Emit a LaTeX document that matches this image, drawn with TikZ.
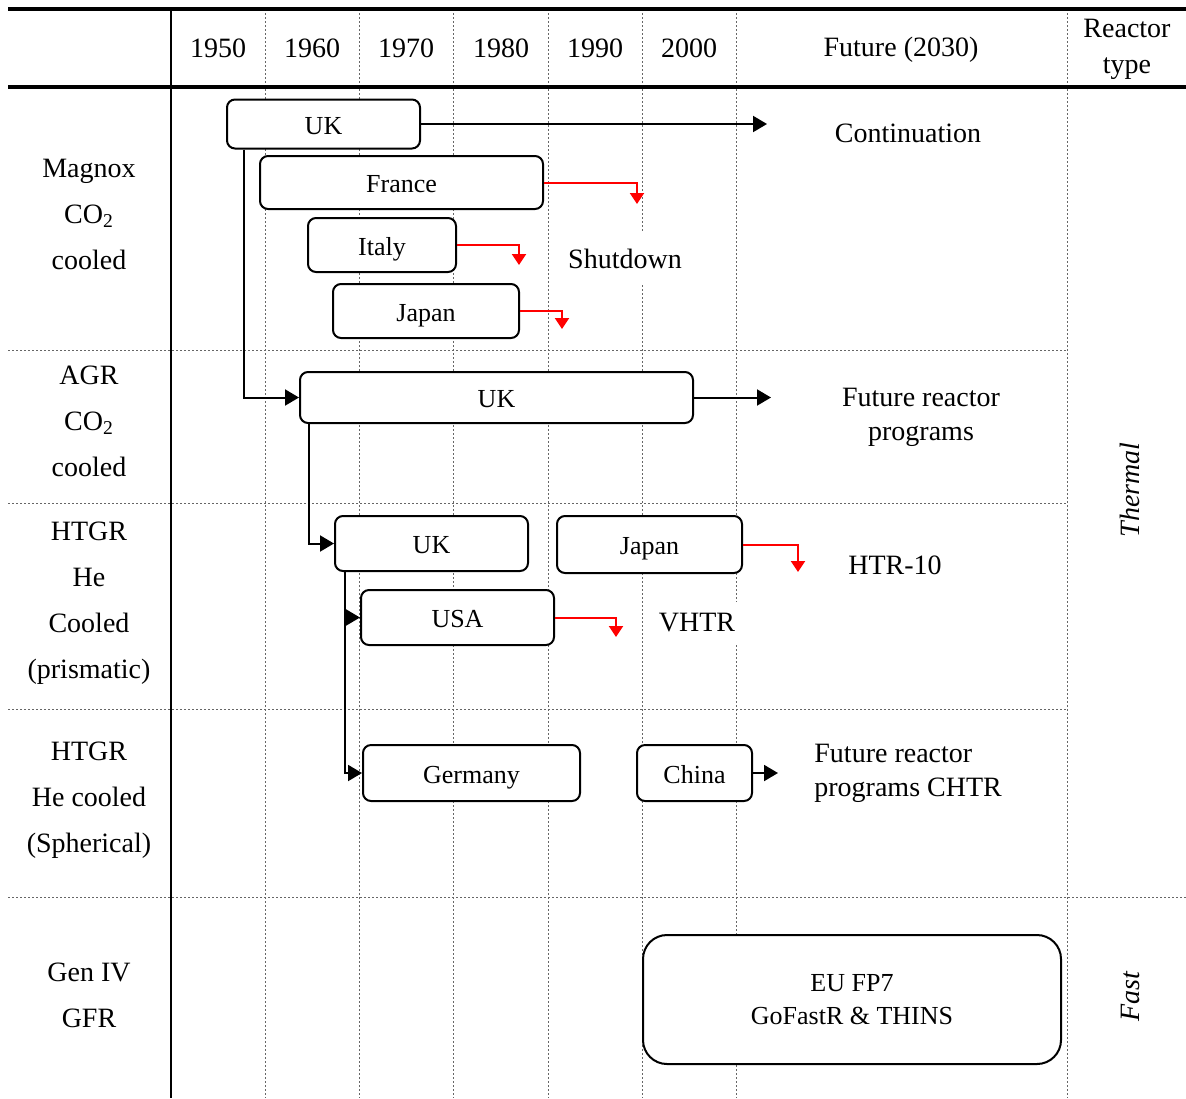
\documentclass[tikz,border=0pt]{standalone}
\usepackage{fontspec}
\setmainfont{Liberation Serif}
\usepackage{tikz}
\usetikzlibrary{arrows.meta}
\tikzstyle{Box} = [rectangle, rounded corners=4pt, draw=black, line width=1pt, fill=white, inner sep=0pt, text height=10pt, text depth=0pt, font=\fontsize{13}{15}\selectfont]
\tikzstyle{Lbl} = [fill=white, inner sep=1pt, font=\fontsize{14}{17}\selectfont]
\tikzstyle{Row} = [align=center, font=\fontsize{14}{23}\selectfont]
\tikzstyle{Grid} = [black!60, line width=0.5pt, dash pattern=on 1pt off 1pt]
\tikzstyle{Rule} = [black, line width=1.75pt]
\tikzstyle{Link} = [-{Triangle[length=7pt, width=8pt]}, line width=1pt]
\tikzstyle{Stop} = [-{Triangle[length=5.5pt, width=7pt]}, line width=1pt, red]

\begin{document}
\begin{tikzpicture}[x=0.5pt, y=-0.5pt]
    \useasboundingbox (0,0) rectangle (1186,1098);

    %%%%%%%%%%%%%%%%%%%%%%
    % table grid
    \draw [Grid] (265, 9) -- (265, 1098);
    \draw [Grid] (359, 9) -- (359, 1098);
    \draw [Grid] (453, 9) -- (453, 1098);
    \draw [Grid] (548, 9) -- (548, 1098);
    \draw [Grid] (642, 9) -- (642, 1098);
    \draw [Grid] (736, 9) -- (736, 1098);
    \draw [Grid] (1067, 9) -- (1067, 1098);
    \draw [Grid] (8, 350) -- (1067, 350);
    \draw [Grid] (8, 503) -- (1067, 503);
    \draw [Grid] (8, 709) -- (1067, 709);
    \draw [Grid] (8, 897) -- (1186, 897);
    \draw [black, line width=1pt] (171, 9) -- (171, 1098);
    \draw [Rule] (8, 9) -- (1186, 9);
    \draw [Rule] (8, 87) -- (1186, 87);

    %%%%%%%%%%%%%%%%%%%%%%
    % header
    \node[Lbl] (y1950) at (218, 48) {1950};
    \node[Lbl] (y1960) at (312, 48) {1960};
    \node[Lbl] (y1970) at (406, 48) {1970};
    \node[Lbl] (y1980) at (501, 48) {1980};
    \node[Lbl] (y1990) at (595, 48) {1990};
    \node[Lbl] (y2000) at (689, 48) {2000};
    \node[Lbl] (future) at (901, 50) {Future (2030)};
    \node[Row, font=\fontsize{14}{18}\selectfont] (rtype) at (1127, 49) {Reactor\\type};

    %%%%%%%%%%%%%%%%%%%%%%
    % row titles
    \node[Row] (magnox) at (89, 214) {Magnox\\CO\textsubscript{2}\\cooled};
    \node[Row] (agr) at (89, 421) {AGR\\CO\textsubscript{2}\\cooled};
    \node[Row] (htgrP) at (89, 603) {HTGR\\He\\Cooled\\(prismatic)};
    \node[Row] (htgrS) at (89, 800) {HTGR\\He cooled\\(Spherical)};
    \node[Row] (gfr) at (89, 995) {Gen IV\\GFR};
    \node[Lbl, rotate=90, font=\fontsize{14}{17}\selectfont\itshape] (thermal) at (1130, 490) {Thermal};
    \node[Lbl, rotate=90, font=\fontsize{14}{17}\selectfont\itshape] (fast) at (1130, 997) {Fast};

    %%%%%%%%%%%%%%%%%%%%%%
    % Magnox
    \node[Box, minimum width=96.5pt, minimum height=24.5pt] (ukMag) at (323.5, 124) {UK};
    \node[Box, minimum width=141.5pt, minimum height=26.5pt] (france) at (401.5, 182.5) {France};
    \node[Box, minimum width=74pt, minimum height=27pt] (italy) at (382, 245) {Italy};
    \node[Box, minimum width=93pt, minimum height=27pt] (japanMag) at (426, 311) {Japan};
    \node[Lbl] (contin) at (908, 133) {Continuation};
    \node[Lbl, inner sep=8pt] (shutdown) at (625, 259) {Shutdown};
    \coordinate (contEnd) at (767, 124);
    \coordinate (frEnd) at (637, 204);
    \coordinate (itEnd) at (519, 265);
    \coordinate (jpEnd) at (562, 329);

    \draw[Link] (ukMag) to (contEnd);
    \draw[Stop] (france.east) -| (frEnd);
    \draw[Stop] (italy.east) -| (itEnd);
    \draw[Stop] (japanMag.east) -| (jpEnd);

    %%%%%%%%%%%%%%%%%%%%%%
    % AGR
    \node[Box, minimum width=196.5pt, minimum height=25.5pt] (ukAGR) at (496.5, 397.5) {UK};
    \node[Lbl, align=center] (futAGR) at (921, 417) {Future reactor\\programs};
    \coordinate (agrEnd) at (771, 397.5);

    \draw[Link] ([xshift=9pt]ukMag.south west) |- (ukAGR.west);
    \draw[Link] (ukAGR) to (agrEnd);

    %%%%%%%%%%%%%%%%%%%%%%
    % HTGR prismatic
    \node[Box, minimum width=96.5pt, minimum height=27.5pt] (ukHTGR) at (431.5, 543.5) {UK};
    \node[Box, minimum width=92.5pt, minimum height=28.5pt] (japanHTR) at (649.5, 544.5) {Japan};
    \node[Box, minimum width=96.5pt, minimum height=27.5pt] (usa) at (457.5, 617.5) {USA};
    \node[Lbl] (htr10) at (895, 565) {HTR-10};
    \node[Lbl, inner sep=6pt] (vhtr) at (697, 623) {VHTR};
    \coordinate (htrEnd) at (798, 572);
    \coordinate (usaEnd) at (616, 637);

    \draw[Link] ([xshift=5pt]ukAGR.south west) |- (ukHTGR.west);
    \draw[Link] ([xshift=5.5pt]ukHTGR.south west) |- (usa.west);
    \draw[Stop] (japanHTR.east) -| (htrEnd);
    \draw[Stop] (usa.east) -| (usaEnd);

    %%%%%%%%%%%%%%%%%%%%%%
    % HTGR spherical
    \node[Box, minimum width=108.5pt, minimum height=28pt] (germany) at (471.5, 773) {Germany};
    \node[Box, minimum width=57.5pt, minimum height=28pt] (china) at (694.5, 773) {China};
    \node[Lbl, align=left, anchor=west] (futCHTR) at (812, 773) {Future reactor\\programs CHTR};
    \coordinate (chinaEnd) at (778, 773);

    \draw[Link] ([xshift=5.5pt]ukHTGR.south west) |- (germany.west);
    \draw[Link] (china) to (chinaEnd);

    %%%%%%%%%%%%%%%%%%%%%%
    % Gen IV
    \node[Box, rounded corners=12pt, align=center, text height=, text depth=, minimum width=209pt, minimum height=64.5pt, font=\fontsize{13}{16.5}\selectfont] (eu) at (852, 999.5) {EU FP7\\GoFastR \& THINS};

\end{tikzpicture}
\end{document}
